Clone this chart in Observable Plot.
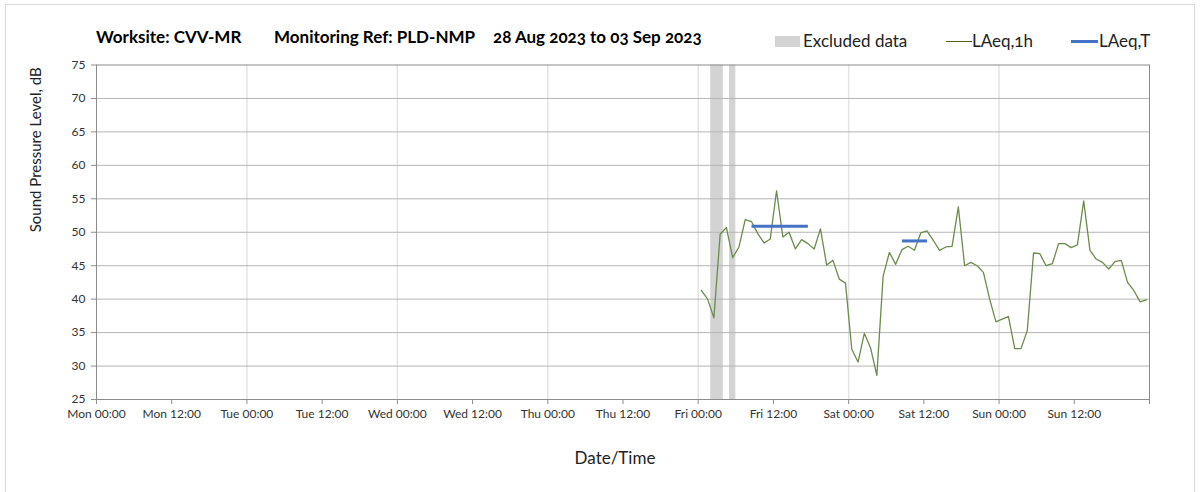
<!DOCTYPE html>
<html><head><meta charset="utf-8">
<script src="https://cdn.jsdelivr.net/npm/d3@7"></script>
<script src="https://cdn.jsdelivr.net/npm/@observablehq/plot@0.6"></script>
<style>
html,body{margin:0;padding:0;background:#fff;}
#wrap{position:relative;width:1203px;height:492px;overflow:hidden;font-family:Lato,"Open Sans",sans-serif;}
#border{position:absolute;left:5px;top:4px;width:1190px;height:520px;border:1px solid #d9d9d9;box-sizing:border-box;}
.t{position:absolute;top:27px;font-weight:700;font-size:17px;color:#000;white-space:nowrap;line-height:20px;font-variant-numeric:oldstyle-nums;}
.lg{position:absolute;top:30px;font-size:17px;color:#222;white-space:nowrap;line-height:21px;font-variant-numeric:oldstyle-nums;}
.sw{position:absolute;}
#chart{position:absolute;left:0;top:50px;}
#chart svg{font-variant-numeric:oldstyle-nums;}
</style>
</head><body>
<div id="wrap">
  <div id="border"></div>
  <div class="t" id="t1" style="left:96px"></div>
  <div class="t" id="t2" style="left:274px"></div>
  <div class="t" id="t3" style="left:493px"></div>
  <div class="sw" style="left:775px;top:36px;width:25px;height:11px;background:#d3d3d3"></div>
  <div class="lg" id="l1" style="left:803px"></div>
  <div class="sw" style="left:946px;top:41px;width:26px;height:1px;background:#4f6228"></div>
  <div class="lg" id="l2" style="left:972px"></div>
  <div class="sw" style="left:1071px;top:40px;width:27px;height:3px;background:#4472c4"></div>
  <div class="lg" id="l3" style="left:1099px"></div>
  <div id="chart"></div>
</div>
<script>
// ---- text ----
const titleParts = ["Worksite: CVV-MR", "Monitoring Ref: PLD-NMP", "28 Aug 2023 to 03 Sep 2023"];
const legendLabels = ["Excluded data", "LAeq,1h", "LAeq,T"];
const yTitle = "Sound Pressure Level, dB";
const xTitle = "Date/Time";

// ---- axis ----
const weekStart = "2023-08-28T00:00Z";
const weekEnd = "2023-09-04T00:00Z";
const xTickLabels = ["Mon 00:00","Mon 12:00","Tue 00:00","Tue 12:00","Wed 00:00","Wed 12:00",
  "Thu 00:00","Thu 12:00","Fri 00:00","Fri 12:00","Sat 00:00","Sat 12:00","Sun 00:00","Sun 12:00",""];
const yTicks = [25,30,35,40,45,50,55,60,65,70,75];

// ---- data ----
const firstReading = "2023-09-01T00:30Z"; // hourly readings
const laeq1h = [41.3,40.0,37.2,49.7,50.7,46.2,47.8,51.9,51.6,49.8,48.4,49.0,
  56.2,49.3,50.0,47.5,48.9,48.3,47.5,50.5,45.1,45.8,43.0,42.4,
  32.5,30.6,34.9,32.7,28.6,43.4,47.0,45.2,47.4,47.9,47.3,49.9,
  50.2,48.8,47.3,47.8,47.9,53.8,45.0,45.5,45.0,44.0,40.0,36.6,
  37.0,37.4,32.6,32.6,35.3,46.9,46.8,45.0,45.3,48.3,48.3,47.7,
  48.1,54.7,47.3,46.0,45.5,44.5,45.6,45.8,42.5,41.3,39.6,39.9];
const excludedStart = ["2023-09-01T02:00Z","2023-09-01T05:00Z"];
const excludedEnd   = ["2023-09-01T04:00Z","2023-09-01T06:00Z"];
const laeqTStart = ["2023-09-01T08:30Z","2023-09-02T08:30Z"];
const laeqTEnd   = ["2023-09-01T17:30Z","2023-09-02T12:30Z"];
const laeqTValue = [50.9, 48.7];

// ---- build ----
document.getElementById("t1").textContent = titleParts[0];
document.getElementById("t2").textContent = titleParts[1];
document.getElementById("t3").textContent = titleParts[2];
document.getElementById("l1").textContent = legendLabels[0];
document.getElementById("l2").textContent = legendLabels[1];
document.getElementById("l3").textContent = legendLabels[2];

const x0 = new Date(weekStart), x1 = new Date(weekEnd);
const t0 = new Date(firstReading);
const series = laeq1h.map((v, i) => ({time: d3.utcHour.offset(t0, i), value: v}));
const excluded = excludedStart.map((s, i) => ({start: new Date(s), end: new Date(excludedEnd[i])}));
const periods = laeqTStart.map((s, i) => ({start: new Date(s), end: new Date(laeqTEnd[i]), value: laeqTValue[i]}));
const tickDates = xTickLabels.map((_, i) => d3.utcHour.offset(x0, 12 * i));
const labelMap = new Map(tickDates.map((d, i) => [+d, xTickLabels[i]]));
const dayLines = d3.utcDay.range(d3.utcDay.offset(x0, 1), x1);
const gridY = yTicks.slice(1, -1);

const chart = Plot.plot({
  width: 1203, height: 440,
  marginTop: 14.5, marginBottom: 91, marginLeft: 96, marginRight: 54,
  style: {fontFamily: "Lato, 'Open Sans', sans-serif", fontSize: "12px", color: "#333", background: "transparent", overflow: "visible"},
  x: {type: "utc", domain: [x0, x1]},
  y: {domain: [25, 75]},
  marks: [
    Plot.rect(excluded, {x1: "start", x2: "end", y1: 25, y2: 75, fill: "#d3d3d3"}),
    Plot.ruleX(dayLines, {stroke: "#e3e3e3", strokeWidth: 1.5}),
    Plot.ruleY(gridY, {stroke: "#b5b5b5"}),
    Plot.ruleY([75], {stroke: "#8c8c8c"}),
    Plot.ruleX([x1], {stroke: "#8c8c8c"}),
    Plot.axisX({ticks: tickDates, tickFormat: d => labelMap.get(+d), tickSize: 5, tickPadding: 5, stroke: "#8c8c8c", label: null, fill: "#333"}),
    Plot.axisY({ticks: yTicks, tickSize: 5, tickPadding: 6, stroke: "#8c8c8c", label: null, fill: "#333"}),
    Plot.ruleY([25], {stroke: "#8c8c8c"}),
    Plot.ruleX([x0], {stroke: "#8c8c8c"}),
    Plot.line(series, {x: "time", y: "value", stroke: "#6b8c4c", strokeWidth: 1.3}),
    Plot.link(periods, {x1: "start", x2: "end", y1: "value", y2: "value", stroke: "#4472c4", strokeWidth: 3}),
    Plot.text([yTitle], {text: d => d, frameAnchor: "left", dx: -60, rotate: -90, fontSize: 15, fill: "#222", lineAnchor: "middle"}),
    Plot.text([xTitle], {text: d => d, frameAnchor: "bottom", dx: -8, dy: 59, fontSize: 17, fill: "#222", lineAnchor: "middle"})
  ]
});
document.getElementById("chart").appendChild(chart);
</script>
</body></html>
